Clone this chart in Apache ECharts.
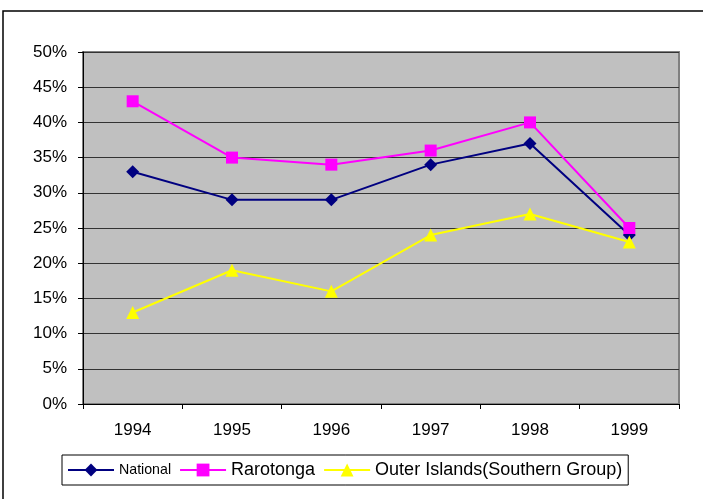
<!DOCTYPE html>
<html>
<head>
<meta charset="utf-8">
<script src="https://cdn.jsdelivr.net/npm/echarts@6/dist/echarts.min.js"></script>
<style>html,body{margin:0;padding:0;background:#fff}#c{width:703px;height:499px}</style>
</head>
<body>
<div id="c"></div>
<script>
const categories = ['1994','1995','1996','1997','1998','1999'];
const national = [33, 29, 29, 34, 37, 24];
const rarotonga = [43, 35, 34, 36, 40, 25];
const outerIslands = [13, 19, 16, 24, 27, 23];
const yTicks = [0, 50, 5];

const font = 'Liberation Sans, Arial, sans-serif';
const chart = echarts.init(document.getElementById('c'), null, {renderer: 'canvas'});
chart.setOption({
  animation: false,
  backgroundColor: '#fff',
  graphic: [{
    type: 'rect', silent: true, z: -1,
    shape: {x: 3, y: 11, width: 760, height: 560},
    style: {fill: 'none', stroke: '#000', lineWidth: 1.5}
  }],
  grid: {
    left: 83, top: 52, right: 24, bottom: 95,
    show: true, backgroundColor: '#c0c0c0', borderColor: '#808080', borderWidth: 2
  },
  legend: {
    left: 62, top: 455,
    orient: 'horizontal',
    itemWidth: 46, itemHeight: 16, itemGap: 8,
    padding: [6, 6, 6, 5],
    borderColor: '#000', borderWidth: 1,
    textStyle: {fontFamily: font, fontSize: 18, color: '#000'},
    data: [
      {name: 'National', textStyle: {fontFamily: 'Liberation Sans Narrow, Arial Narrow, Liberation Sans, sans-serif', fontSize: 14.2}},
      {name: 'Rarotonga'},
      {name: 'Outer Islands(Southern Group)'}
    ]
  },
  xAxis: {
    type: 'category', data: categories, boundaryGap: true,
    axisLine: {lineStyle: {color: '#000', width: 1}},
    axisTick: {show: true, length: 5, inside: false, lineStyle: {color: '#000'}},
    axisLabel: {margin: 18, fontFamily: font, fontSize: 17, color: '#000'},
    splitLine: {show: false}
  },
  yAxis: {
    type: 'value', min: yTicks[0], max: yTicks[1], interval: yTicks[2],
    axisLine: {show: true, lineStyle: {color: '#000', width: 1}},
    axisTick: {show: true, length: 5, lineStyle: {color: '#000'}},
    axisLabel: {margin: 16, fontFamily: font, fontSize: 17, color: '#000', formatter: v => v + '%'},
    splitLine: {show: true, lineStyle: {color: '#333', width: 1}}
  },
  series: [
    {name: 'National', type: 'line', data: national, symbol: 'diamond', symbolSize: 13,
     lineStyle: {color: '#000080', width: 2}, itemStyle: {color: '#000080'}},
    {name: 'Rarotonga', type: 'line', data: rarotonga, symbol: 'rect', symbolSize: 12,
     lineStyle: {color: '#ff00ff', width: 2}, itemStyle: {color: '#ff00ff'}},
    {name: 'Outer Islands(Southern Group)', type: 'line', data: outerIslands, symbol: 'triangle', symbolSize: 13,
     lineStyle: {color: '#ffff00', width: 2}, itemStyle: {color: '#ffff00'}}
  ]
});
</script>
</body>
</html>
